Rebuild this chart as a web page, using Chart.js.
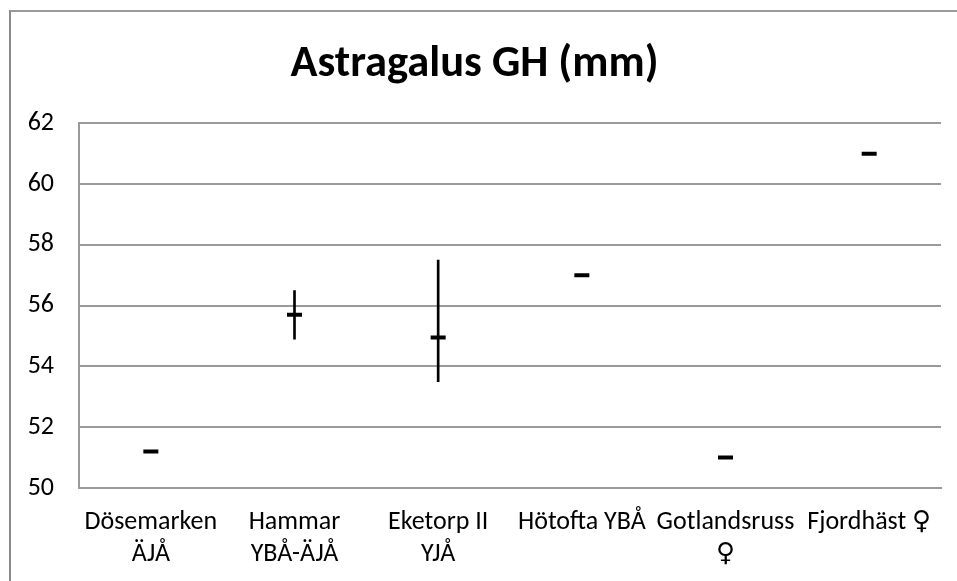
<!DOCTYPE html>
<html>
<head>
<meta charset="utf-8">
<script src="https://cdn.jsdelivr.net/npm/chart.js@4/dist/chart.umd.min.js"></script>
<style>
  html, body { margin: 0; padding: 0; background: #fff; overflow: hidden; }
  #wrap { position: relative; width: 957px; height: 581px; }
  #frame { position: absolute; left: 9px; top: 10px; width: 1000px; height: 1000px;
           border-left: 2px solid #8a8a8a; border-top: 2px solid #9a9a9a; box-sizing: border-box; pointer-events: none; }
  canvas { position: absolute; left: 0; top: 0; }
</style>
</head>
<body>
<div id="wrap">
  <canvas id="c" width="957" height="581"></canvas>
  <div id="frame"></div>
</div>
<script>
const categories = [
  ['Dösemarken', 'ÄJÅ'],
  ['Hammar', 'YBÅ-ÄJÅ'],
  ['Eketorp II', 'YJÅ'],
  'Hötofta YBÅ',
  ['Gotlandsruss', '♀'],
  'Fjordhäst ♀'
];
const highValues  = [null, 56.5, 57.5, null, null, null];
const lowValues   = [null, 54.9, 53.5, null, null, null];
const closeValues = [51.2, 55.7, 54.95, 57.0, 51.0, 61.0];
const yTicks = [50, 52, 54, 56, 58, 60, 62];

const rangeData = highValues.map((h, i) => (h === null ? null : [lowValues[i], h]));
const FONT = "Carlito, Calibri, Lato, 'DejaVu Sans', sans-serif";

new Chart(document.getElementById('c'), {
  data: {
    labels: categories,
    datasets: [
      {
        type: 'bar',
        label: 'Range',
        data: rangeData,
        backgroundColor: '#000',
        barThickness: 2,
        borderWidth: 0
      },
      {
        type: 'line',
        label: 'Close',
        data: closeValues,
        showLine: false,
        pointStyle: 'line',
        pointRadius: 7.5,
        pointHoverRadius: 7.5,
        pointBorderWidth: 4,
        pointHoverBorderWidth: 4,
        borderColor: '#000',
        backgroundColor: '#000'
      }
    ]
  },
  options: {
    responsive: false,
    animation: false,
    events: [],
    layout: { padding: { left: 8, right: 16, top: 0, bottom: 0 } },
    plugins: {
      legend: { display: false },
      tooltip: { enabled: false },
      title: {
        display: true,
        text: 'Astragalus GH (mm)',
        color: '#000',
        font: { family: FONT, size: 44.5, weight: 'bold', lineHeight: 1.2 },
        padding: { top: 38, bottom: 32 }
      }
    },
    scales: {
      x: {
        type: 'category',
        offset: true,
        grid: { display: false, drawTicks: false },
        border: { display: true, color: '#9a9a9a', width: 2 },
        ticks: {
          color: '#000',
          maxRotation: 0,
          minRotation: 0,
          autoSkip: false,
          padding: 19,
          font: { family: FONT, size: 26, lineHeight: 1.23 }
        },
        afterFit: (s) => { s.height = 93; }
      },
      y: {
        min: 50,
        max: 62,
        afterBuildTicks: (s) => { s.ticks = yTicks.map(v => ({ value: v })); },
        grid: { color: '#9a9a9a', lineWidth: 2, drawTicks: false },
        border: { display: true, color: '#9a9a9a', width: 2 },
        ticks: {
          color: '#000',
          padding: 25,
          font: { family: FONT, size: 26 }
        },
        afterFit: (s) => { s.width = 71; }
      }
    }
  }
});
</script>
</body>
</html>
